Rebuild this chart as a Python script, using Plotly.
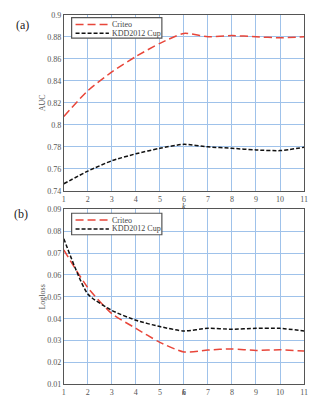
import plotly.graph_objects as go

k = [1, 2, 3, 4, 5, 6, 7, 8, 9, 10, 11]
auc_criteo = [0.8076, 0.831, 0.848, 0.862, 0.874, 0.883, 0.880, 0.881, 0.880, 0.879, 0.880]
auc_kdd = [0.7465, 0.758, 0.7674, 0.7737, 0.7787, 0.7823, 0.780, 0.7787, 0.7772, 0.7766, 0.7796]
loss_criteo = [0.0714, 0.0542, 0.0423, 0.0356, 0.0292, 0.0248, 0.0257, 0.0262, 0.0255, 0.0258, 0.0252]
loss_kdd = [0.0766, 0.0513, 0.0438, 0.0393, 0.0364, 0.0344, 0.0356, 0.0352, 0.0356, 0.0356, 0.0344]
series_names = ["Criteo", "KDD2012 Cup"]

auc_ticks = [0.74, 0.76, 0.78, 0.8, 0.82, 0.84, 0.86, 0.88, 0.9]
auc_ticktext = ["0.74", "0.76", "0.78", "0.8", "0.82", "0.84", "0.86", "0.88", "0.9"]
loss_ticks = [0.01, 0.02, 0.03, 0.04, 0.05, 0.06, 0.07, 0.08, 0.09]
loss_ticktext = ["0.01", "0.02", "0.03", "0.04", "0.05", "0.06", "0.07", "0.08", "0.09"]
k_ticks = k

RED = "#e8463a"
BLACK = "#111111"
FONT = "Liberation Serif"
W, H = 312, 405
RED_DASH = "8px,4px"
BLK_DASH = "4px,2px"

fig = go.Figure()
fig.add_trace(go.Scatter(x=k, y=auc_criteo, name=series_names[0], mode="lines", line=dict(color=RED, width=1.5, dash=RED_DASH, shape="spline", smoothing=0.6), xaxis="x", yaxis="y"))
fig.add_trace(go.Scatter(x=k, y=auc_kdd, name=series_names[1], mode="lines", line=dict(color=BLACK, width=1.5, dash=BLK_DASH, shape="spline", smoothing=0.6), xaxis="x", yaxis="y"))
fig.add_trace(go.Scatter(x=k, y=loss_criteo, name=series_names[0], mode="lines", line=dict(color=RED, width=1.5, dash=RED_DASH, shape="spline", smoothing=0.6), xaxis="x2", yaxis="y2"))
fig.add_trace(go.Scatter(x=k, y=loss_kdd, name=series_names[1], mode="lines", line=dict(color=BLACK, width=1.5, dash=BLK_DASH, shape="spline", smoothing=0.6), xaxis="x2", yaxis="y2"))

axis_common = dict(showgrid=True, gridcolor="#9fc2ea", gridwidth=1, showline=True, linecolor="#555555", linewidth=1, mirror=True, zeroline=False, ticks="", tickfont=dict(family=FONT, size=8, color="#555555"))

shapes = []
annotations = []


def px(x):
    return x / W


def py(y):
    return 1 - y / H


def add_legend(top, bottom, row1, row2):
    shapes.append(dict(type="rect", xref="paper", yref="paper", x0=px(71), x1=px(163), y0=py(bottom), y1=py(top),
                       line=dict(color="#555555", width=1.2), fillcolor="white", opacity=1, layer="above"))
    for row, color, dash, name in [(row1, RED, RED_DASH, series_names[0]), (row2, BLACK, BLK_DASH, series_names[1])]:
        shapes.append(dict(type="line", xref="paper", yref="paper", x0=px(75), x1=px(109), y0=py(row), y1=py(row),
                           line=dict(color=color, width=1.5, dash=dash), layer="above"))
        annotations.append(dict(text=name, x=px(110), y=py(row), xref="paper", yref="paper", xanchor="left", yanchor="middle",
                                showarrow=False, font=dict(family=FONT, size=8, color="#444444")))


add_legend(14, 35, 21, 30)
add_legend(214, 236, 221, 230)

annotations += [
    dict(text="(a)", x=px(12), y=py(12), xref="paper", yref="paper", showarrow=False, font=dict(family=FONT, size=12, color="#222222")),
    dict(text="(b)", x=px(10), y=py(215), xref="paper", yref="paper", showarrow=False, font=dict(family=FONT, size=12, color="#222222")),
    dict(text="<i>k</i>", x=px(186), y=py(207), xref="paper", yref="paper", showarrow=False, font=dict(family=FONT, size=8, color="#444444")),
    dict(text="<i>k</i>", x=px(186), y=py(404), xref="paper", yref="paper", showarrow=False, font=dict(family=FONT, size=8, color="#444444")),
]

fig.update_layout(
    width=W, height=H,
    margin=dict(l=0, r=0, t=0, b=0),
    paper_bgcolor="white", plot_bgcolor="white",
    font=dict(family=FONT, color="#333333"),
    showlegend=False,
    xaxis=dict(domain=[0.202, 0.987], range=[1, 11], tickvals=k_ticks, anchor="y", **axis_common),
    yaxis=dict(domain=[0.528, 0.973], range=[0.74, 0.9], tickvals=auc_ticks, ticktext=auc_ticktext, anchor="x",
               title=dict(text="AUC", font=dict(family=FONT, size=8, color="#555555"), standoff=0), **axis_common),
    xaxis2=dict(domain=[0.202, 0.987], range=[1, 11], tickvals=k_ticks, anchor="y2", **axis_common),
    yaxis2=dict(domain=[0.0395, 0.4815], range=[0.01, 0.09], tickvals=loss_ticks, ticktext=loss_ticktext, anchor="x2",
                title=dict(text="Logloss", font=dict(family=FONT, size=8, color="#555555"), standoff=0), **axis_common),
    shapes=shapes,
    annotations=annotations,
)

fig.write_html("out.html")
